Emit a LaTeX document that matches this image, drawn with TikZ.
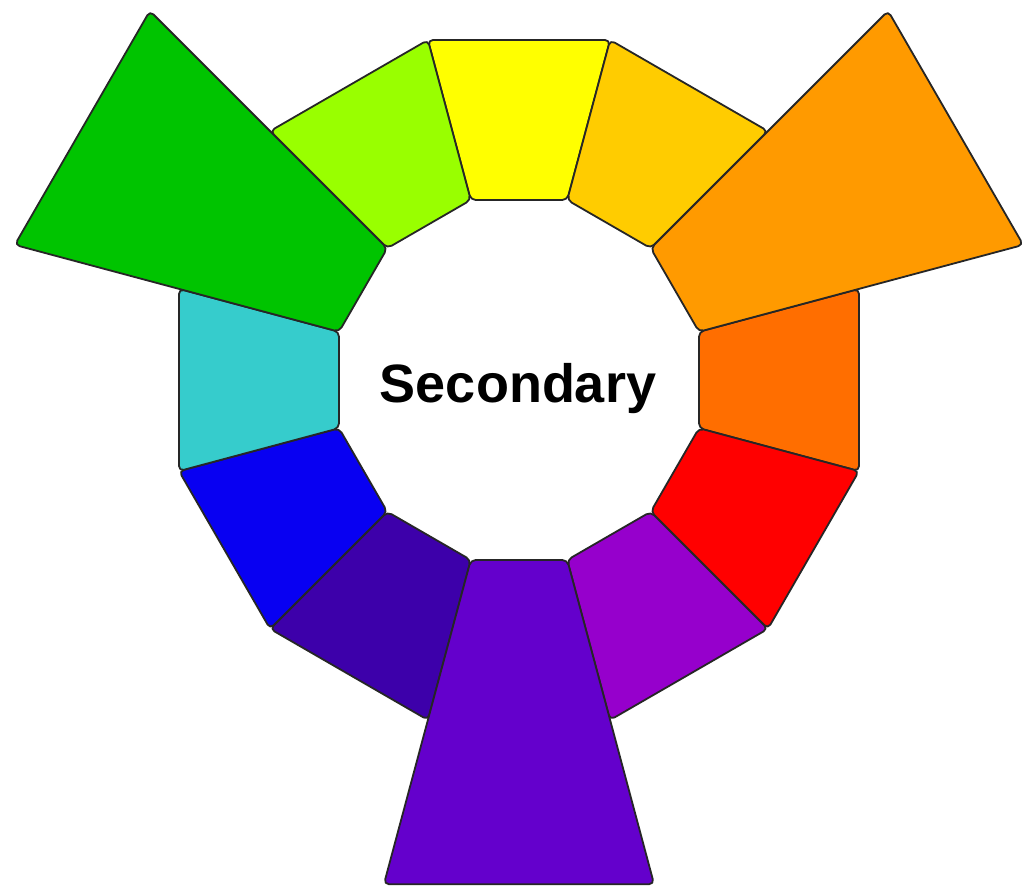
\documentclass[tikz,border=0pt]{standalone}
\usepackage{fontspec}
\setmainfont{Liberation Sans}
\definecolor{cYellow}{HTML}{FFFF00}
\definecolor{cYellowOrange}{HTML}{FFCC00}
\definecolor{cOrange}{HTML}{FF9A00}
\definecolor{cRedOrange}{HTML}{FF6E00}
\definecolor{cRed}{HTML}{FF0000}
\definecolor{cRedViolet}{HTML}{9600CC}
\definecolor{cViolet}{HTML}{6400CC}
\definecolor{cBlueViolet}{HTML}{3D00AA}
\definecolor{cBlue}{HTML}{0800F2}
\definecolor{cBlueGreen}{HTML}{36CCCC}
\definecolor{cGreen}{HTML}{00C400}
\definecolor{cYellowGreen}{HTML}{99FF00}
\tikzset{
  segpart/.style={draw=black!85, line width=1.8pt, rounded corners=5pt, line join=round},
  labeltext/.style={font=\fontsize{54}{60}\selectfont\bfseries, text=black, inner sep=0pt}
}
\begin{document}
\begin{tikzpicture}[x=1pt,y=1pt]
\useasboundingbox (0,0) rectangle (1036,893);
\fill[white] (0,0) rectangle (1036,893);
\begin{scope}[shift={(519,513)}]
  % regular (primary / tertiary) segments
  \foreach \a/\c in {90/cYellow, 60/cYellowOrange, 0/cRedOrange, -30/cRed,
                     -60/cRedViolet, -120/cBlueViolet, -150/cBlue, 180/cBlueGreen,
                     120/cYellowGreen} {
    \pgfmathsetmacro\lo{\a-15}
    \pgfmathsetmacro\hi{\a+15}
    \filldraw[segpart, fill=\c] (\lo:186.3pt) -- (\hi:186.3pt) -- (\hi:352pt) -- (\lo:352pt) -- cycle;
  }
  % extended secondary segments
  \foreach \a/\c in {30/cOrange, -90/cViolet, 150/cGreen} {
    \pgfmathsetmacro\lo{\a-15}
    \pgfmathsetmacro\hi{\a+15}
    \filldraw[segpart, fill=\c] (\lo:186.3pt) -- (\hi:186.3pt) -- (\hi:522pt) -- (\lo:522pt) -- cycle;
  }
\end{scope}
\node[labeltext, anchor=base] (title) at (518,490) {Secondary};
\end{tikzpicture}
\end{document}
